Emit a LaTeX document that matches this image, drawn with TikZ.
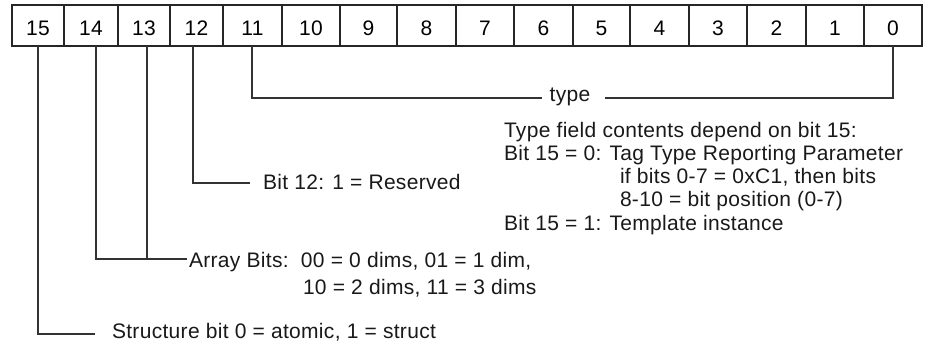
\documentclass[tikz,border=0pt]{standalone}
\usepackage{fontspec}
\setmainfont{Liberation Sans}[LetterSpace=1.5]
\begin{document}
\begin{tikzpicture}[x=1pt,y=-1pt,
  cellbox/.style={draw=black!85,line width=1.4pt,minimum height=41pt,inner sep=0pt,outer sep=0pt,
    text height=20.5pt,text depth=0pt,font=\fontsize{21}{24}\selectfont},
  lbl/.style={inner sep=0pt,outer sep=0pt,anchor=base west,font=\fontsize{21}{24}\selectfont,text=black!90},
  conn/.style={draw=black!80,line width=1.2pt}]
\useasboundingbox (0,0) rectangle (928,347);
\foreach \n/\l/\r in {15/12/64,14/64/118,13/118/170,12/170/223,11/223/282,10/282/340,9/340/397,8/397/456,7/456/514,6/514/573,5/573/630,4/630/689,3/689/747,2/747/806,1/806/864,0/864/922}
  \node[cellbox,minimum width={(\r-\l)*1pt}] (b\n) at ({(\l+\r)/2},25.5) {\n};
% type field
\coordinate (tl) at (542,98);
\coordinate (tr) at (605,98);
\node[lbl,anchor=base] (typelbl) at (570,102) {type};
\draw[conn] ([xshift=-0.5pt]b11.south) |- (tl);
\draw[conn] (tr) -| (b0.south);
\node[lbl] (n1) at (504,138) {Type field contents depend on bit 15:};
\node[lbl] (n2) at (504,161) {Bit 15 = 0: Tag Type Reporting Parameter};
\node[lbl] (n3) at (620,184) {if bits 0-7 = 0xC1, then bits};
\node[lbl] (n4) at (620,207) {8-10 = bit position (0-7)};
\node[lbl] (n5) at (504,231) {Bit 15 = 1: Template instance};
% bit 12
\coordinate (r12) at (250,183);
\node[lbl] (res) at (263,190) {Bit 12: 1 = Reserved};
\draw[conn] ([xshift=-3.5pt]b12.south) |- (r12);
% bits 13-14
\coordinate (a14) at (187,259);
\node[lbl] (arr1) at (189,267) {Array Bits:\ \ 00 = 0 dims, 01 = 1 dim,};
\node[lbl] (arr2) at (303,294) {10 = 2 dims, 11 = 3 dims};
\draw[conn] ([xshift=5pt]b14.south) |- (a14);
\draw[conn] ([xshift=3pt]b13.south) -- ([xshift=3pt]b13.south |- a14);
% bit 15
\coordinate (s15) at (95,334);
\node[lbl] (str) at (112,338) {Structure bit 0 = atomic, 1 = struct};
\draw[conn] (b15.south) |- (s15);
\end{tikzpicture}
\end{document}
